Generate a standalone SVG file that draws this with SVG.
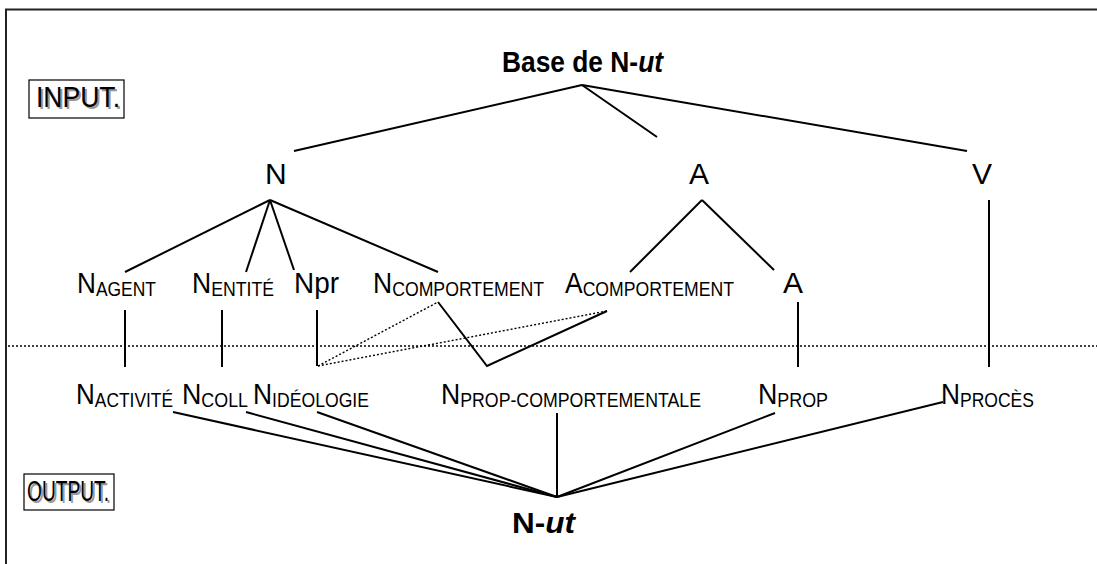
<svg xmlns="http://www.w3.org/2000/svg" width="1097" height="564" viewBox="0 0 1097 564">
<style>
text{font-family:"Liberation Sans",Arial,sans-serif;fill:#000}
.lbl{font-size:30px}
.sub{font-size:20px}
.b{font-weight:bold;font-size:30px}
.sh{fill:#999}
.ln{stroke:#000;stroke-width:2;fill:none}
.dt{stroke:#000;stroke-width:1.4;stroke-dasharray:2 2;fill:none}
.box{fill:#fff;stroke:#000;stroke-width:1.2}
</style>
<rect x="0" y="0" width="1097" height="564" fill="#fff"/>
<path d="M6,564 V9.5 H1097" fill="none" stroke="#222" stroke-width="2"/>
<g id="connectors">
<line class="dt" x1="8" y1="346" x2="1097" y2="346"/>
<line class="ln" x1="582" y1="85" x2="294" y2="151"/>
<line class="ln" x1="582" y1="85" x2="657" y2="137"/>
<line class="ln" x1="582" y1="85" x2="967" y2="151"/>
<line class="ln" x1="270" y1="200" x2="125" y2="272"/>
<line class="ln" x1="270" y1="200" x2="246" y2="272"/>
<line class="ln" x1="270" y1="200" x2="294" y2="270"/>
<line class="ln" x1="270" y1="200" x2="438" y2="272"/>
<line class="ln" x1="702" y1="200" x2="630" y2="272"/>
<line class="ln" x1="702" y1="200" x2="774" y2="270"/>
<line class="ln" x1="989" y1="200" x2="989" y2="367"/>
<line class="ln" x1="125" y1="310" x2="125" y2="367"/>
<line class="ln" x1="222" y1="310" x2="222" y2="367"/>
<line class="ln" x1="317" y1="310" x2="317" y2="366"/>
<line class="ln" x1="798" y1="302" x2="798" y2="367"/>
<polyline class="ln" points="438,302 487,366 607,311"/>
<line class="dt" x1="318" y1="366" x2="438" y2="302"/>
<line class="dt" x1="318" y1="366" x2="607" y2="311"/>
<line class="ln" x1="173" y1="412" x2="557" y2="497"/>
<line class="ln" x1="246" y1="412" x2="557" y2="497"/>
<line class="ln" x1="317" y1="412" x2="557" y2="497"/>
<line class="ln" x1="557" y1="413" x2="557" y2="497"/>
<line class="ln" x1="775" y1="413" x2="557" y2="497"/>
<line class="ln" x1="943" y1="402" x2="557" y2="497"/>
</g>
<g id="input">
<rect class="box" x="29" y="80" width="95" height="38"/>
<text class="lbl sh" x="38" y="109" textLength="84" lengthAdjust="spacingAndGlyphs">INPUT.</text>
<text class="lbl" x="36" y="107" textLength="84" lengthAdjust="spacingAndGlyphs">INPUT.</text>
</g>
<g id="output">
<rect class="box" x="24" y="474" width="90" height="36"/>
<text class="lbl sh" x="29" y="503" textLength="82" lengthAdjust="spacingAndGlyphs">OUTPUT.</text>
<text class="lbl" x="27" y="501" textLength="82" lengthAdjust="spacingAndGlyphs">OUTPUT.</text>
</g>
<g id="base"><text class="b" x="502" y="72" textLength="161" lengthAdjust="spacingAndGlyphs">Base de N-<tspan font-style="italic">ut</tspan></text></g>
<g id="n1"><text class="lbl" x="265" y="184">N</text></g>
<g id="a1"><text class="lbl" x="689" y="184">A</text></g>
<g id="v1"><text class="lbl" x="972" y="184">V</text></g>
<g id="nagent"><text class="lbl" x="77" y="293" textLength="79" lengthAdjust="spacingAndGlyphs">N<tspan class="sub" dy="3">AGENT</tspan></text></g>
<g id="nentite"><text class="lbl" x="192" y="293" textLength="82" lengthAdjust="spacingAndGlyphs">N<tspan class="sub" dy="3">ENTITÉ</tspan></text></g>
<g id="npr"><text class="lbl" x="294" y="293" textLength="45" lengthAdjust="spacingAndGlyphs">Npr</text></g>
<g id="ncomp"><text class="lbl" x="373" y="293" textLength="171" lengthAdjust="spacingAndGlyphs">N<tspan class="sub" dy="3">COMPORTEMENT</tspan></text></g>
<g id="acomp"><text class="lbl" x="565" y="293" textLength="169" lengthAdjust="spacingAndGlyphs">A<tspan class="sub" dy="3">COMPORTEMENT</tspan></text></g>
<g id="a2"><text class="lbl" x="783" y="293">A</text></g>
<g id="nactivite"><text class="lbl" x="76" y="404" textLength="97" lengthAdjust="spacingAndGlyphs">N<tspan class="sub" dy="3">ACTIVITÉ</tspan></text></g>
<g id="ncoll"><text class="lbl" x="182" y="404" textLength="66" lengthAdjust="spacingAndGlyphs">N<tspan class="sub" dy="3">COLL</tspan></text></g>
<g id="nideologie"><text class="lbl" x="253" y="404" textLength="116" lengthAdjust="spacingAndGlyphs">N<tspan class="sub" dy="3">IDÉOLOGIE</tspan></text></g>
<g id="npropcomp"><text class="lbl" x="441" y="404" textLength="260" lengthAdjust="spacingAndGlyphs">N<tspan class="sub" dy="3">PROP-COMPORTEMENTALE</tspan></text></g>
<g id="nprop"><text class="lbl" x="758" y="404" textLength="70" lengthAdjust="spacingAndGlyphs">N<tspan class="sub" dy="3">PROP</tspan></text></g>
<g id="nproces"><text class="lbl" x="941" y="404" textLength="93" lengthAdjust="spacingAndGlyphs">N<tspan class="sub" dy="3">PROCÈS</tspan></text></g>
<g id="nut"><text class="b" x="512" y="533" textLength="63" lengthAdjust="spacingAndGlyphs">N-<tspan font-style="italic">ut</tspan></text></g>
</svg>
